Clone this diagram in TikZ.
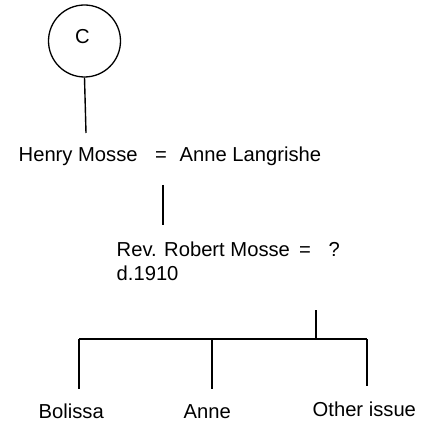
\documentclass[tikz,border=0pt]{standalone}
\usepackage{fontspec}
\setmainfont{Liberation Sans}
\newcommand{\labelfont}{\fontsize{20.2}{24}\selectfont}
\begin{document}
\begin{tikzpicture}[x=1pt,y=-1pt,
  line width=1.4pt,
  every node/.style={font=\labelfont},
  personlabel/.style={anchor=base west,inner sep=0pt},
  eqsign/.style={anchor=base,inner sep=0pt},
  refcircle/.style={draw,circle,minimum size=72pt,inner sep=0pt,line width=1.3pt}]
\useasboundingbox (0,0) rectangle (426,425);

% reference circle and its descent
\node[refcircle] (c) at (84.5,41) {};
\node[eqsign] (clabel) at (82.5,44) {\labelfont C};
\coordinate (cdrop) at (86,133);
\draw (c.south) -- (cdrop);

% first generation
\node[personlabel] (henry) at (18,161.5) {Henry Mosse};
\node[eqsign] (eq1) at (161,161.5) {=};
\node[personlabel] (anne) at (179,161.5) {Anne Langrishe};

\coordinate (gen1top) at (163,185);
\coordinate (gen1bot) at (163,225);
\draw (gen1top) -- (gen1bot);

% second generation
\node[personlabel] (robert) at (116,256.5) {Rev. Robert Mosse};
\node[eqsign] (eq2) at (305,256.5) {=};
\node[personlabel] (spouse) at (328,256.5) {?};
\node[personlabel] (died) at (116,280) {d.1910};

% children bar
\coordinate (stem) at (316,310);
\coordinate (bar) at (316,339);
\coordinate (barL) at (79,339);
\coordinate (barM) at (212,339);
\coordinate (barR) at (367,339);
\draw (stem) -- (bar);
\draw (barL) -- (barR);
\draw (barL) -- (79,389);
\draw (barM) -- (212,389);
\draw (barR) -- (367,386);

% children
\node[personlabel] (bolissa) at (38,418) {Bolissa};
\node[personlabel] (anne2) at (183,418) {Anne};
\node[personlabel] (other) at (312,416) {Other issue};
\end{tikzpicture}
\end{document}
